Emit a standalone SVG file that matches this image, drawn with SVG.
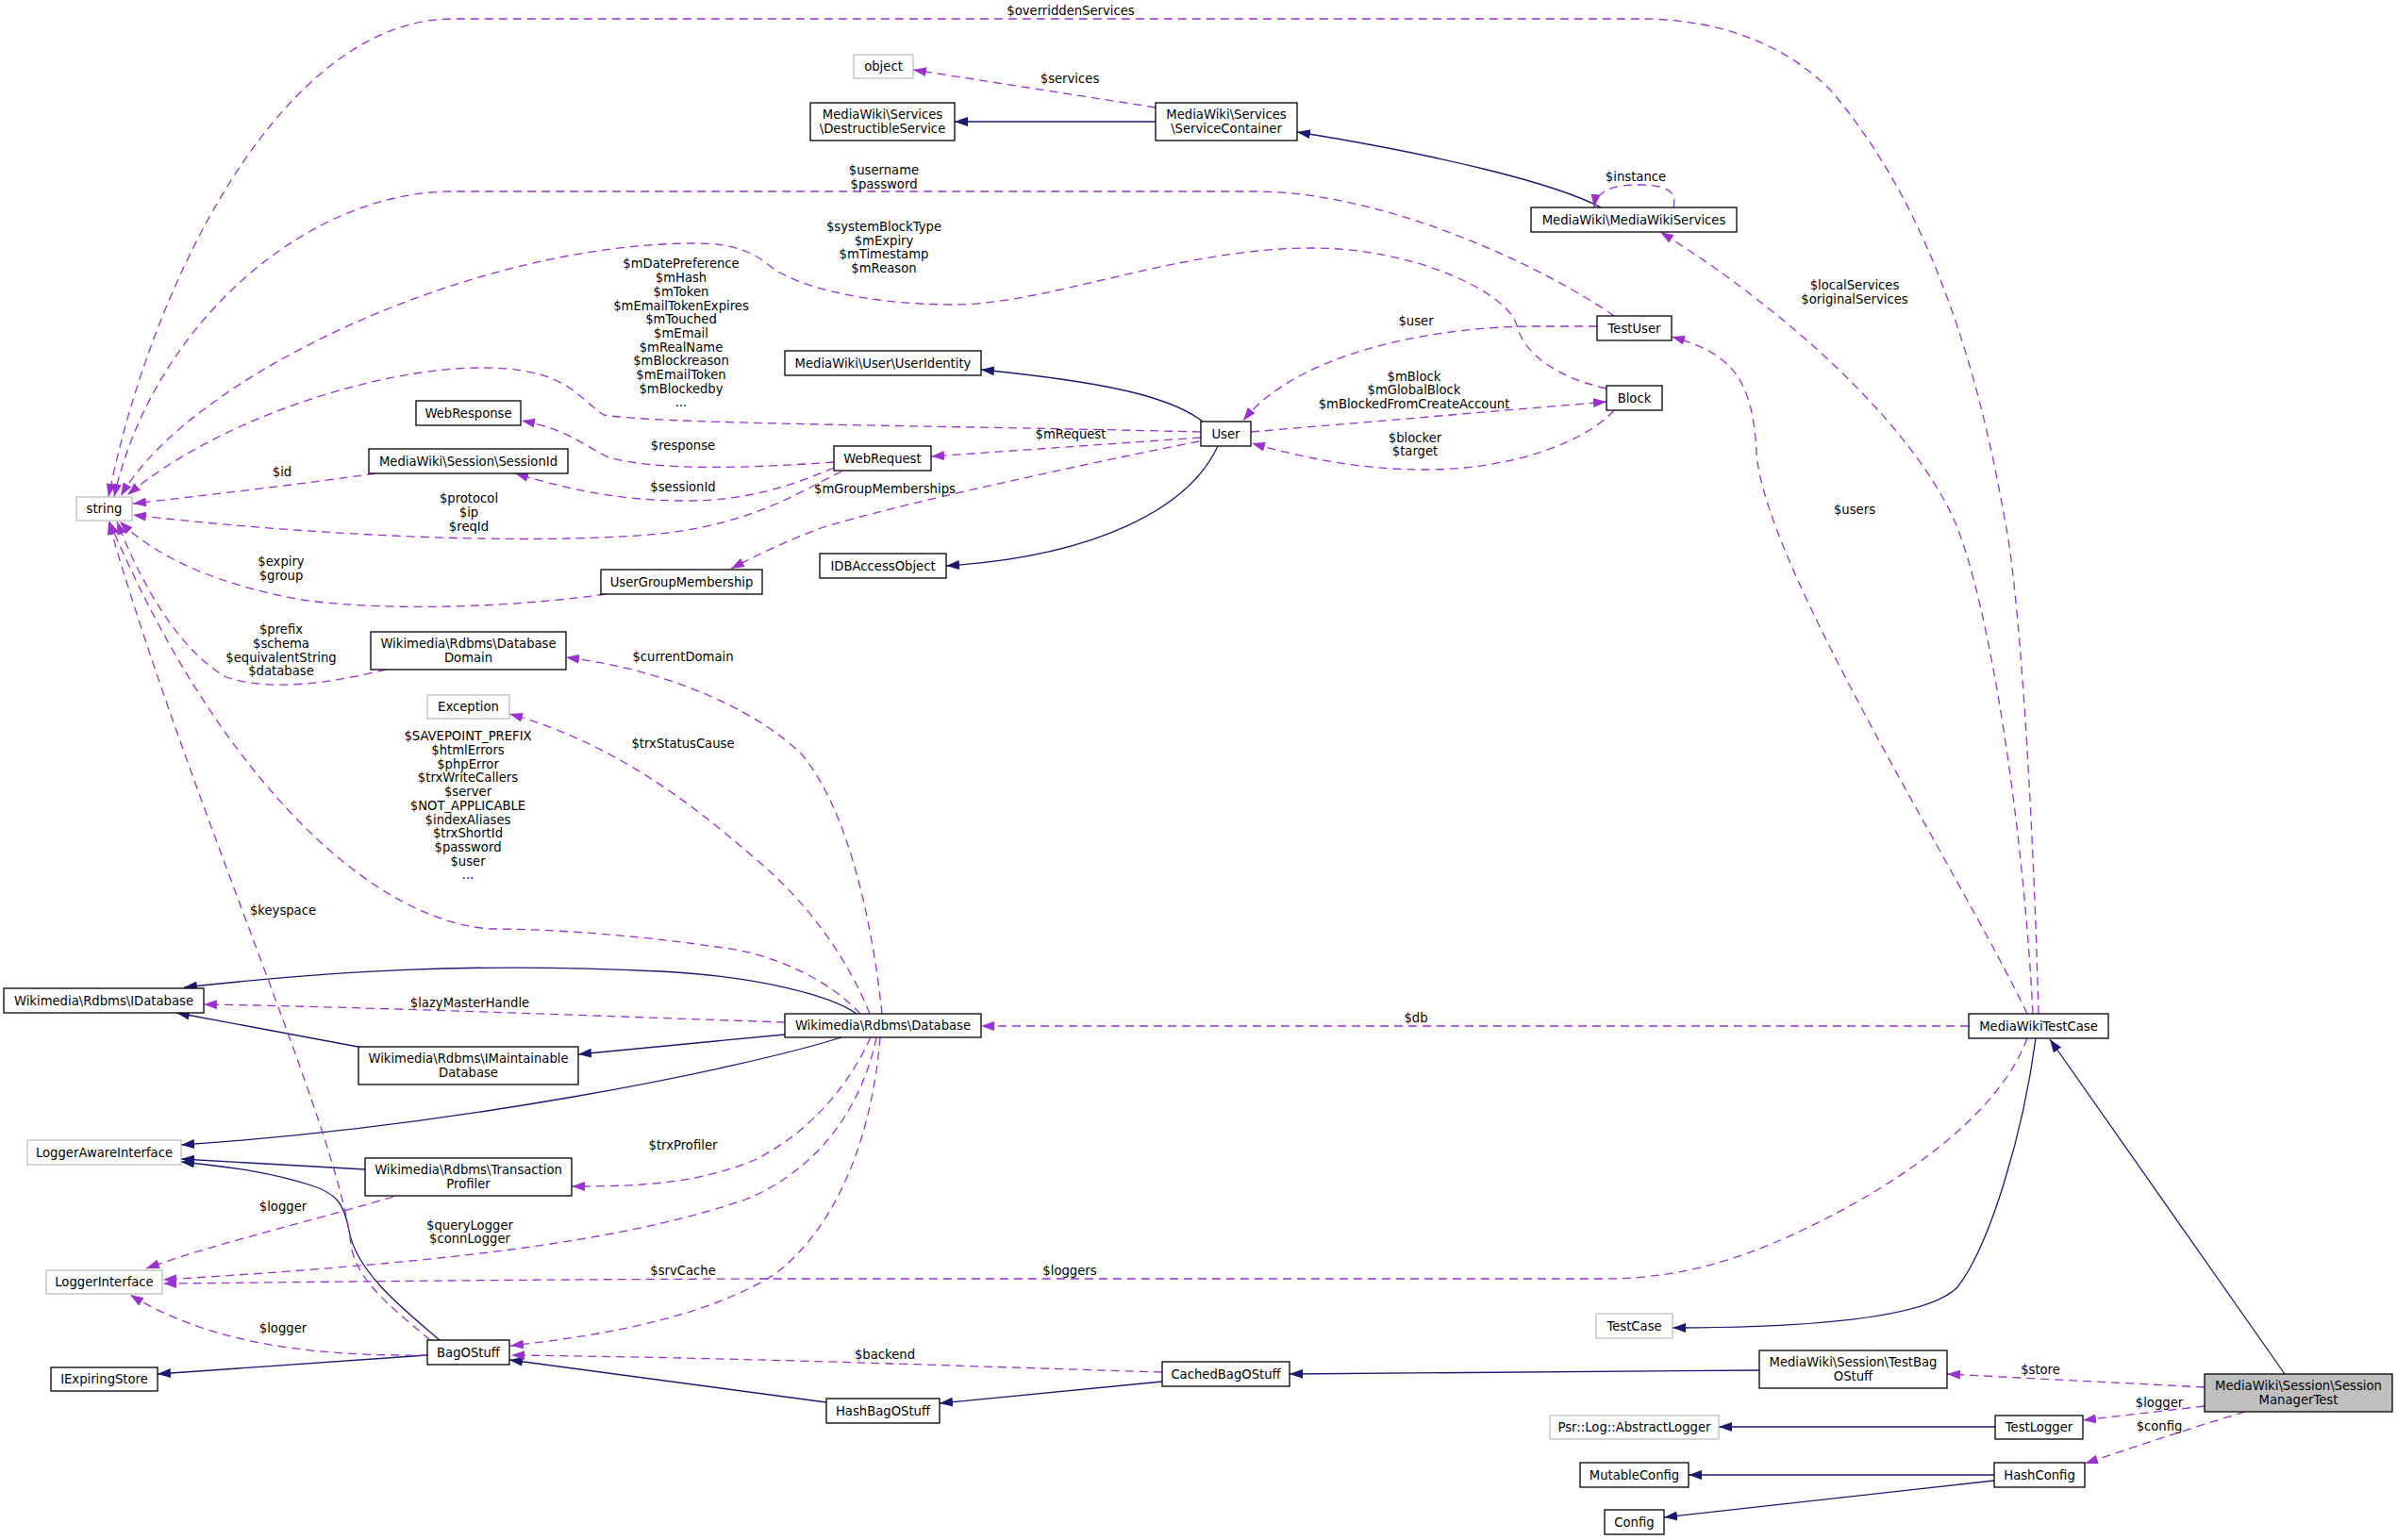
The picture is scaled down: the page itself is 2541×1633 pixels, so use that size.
<svg xmlns="http://www.w3.org/2000/svg" width="2541" height="1633" viewBox="0 0 2541 1633">
<style>
text{font-family:"DejaVu Sans","Liberation Sans",sans-serif;font-size:13.2px;fill:#000}
.node text,.lbl{text-anchor:middle}
.node rect{fill:#fff;stroke:#000;stroke-width:1.3}
.node.ext rect{stroke:#bfbfbf}
.node.focus rect{fill:#bfbfbf;stroke:#000}
.inh{fill:none;stroke:#191970;stroke-width:1.3;marker-end:url(#ab)}
.use{fill:none;stroke:#9a32cd;stroke-width:1.3;stroke-dasharray:9,6;marker-end:url(#ap)}
</style>
<defs>
<marker id="ab" markerUnits="userSpaceOnUse" markerWidth="14" markerHeight="10" refX="14" refY="5" orient="auto"><path d="M0,0 L14,5 L0,10 z" fill="#191970"/></marker>
<marker id="ap" markerUnits="userSpaceOnUse" markerWidth="14" markerHeight="10" refX="14" refY="5" orient="auto"><path d="M0,0 L14,5 L0,10 z" fill="#9a32cd"/></marker>
</defs>
<rect width="2541" height="1633" fill="#fff"/>
<g id="connectors">
<path class="inh" d="M1225,129 L1012,129"/>
<path class="inh" d="M1697,220 C1650,195 1530,165 1375,140"/>
<path class="inh" d="M1275,447 C1240,420 1170,405 1040,392"/>
<path class="inh" d="M1291,473 C1260,540 1160,590 1003,600"/>
<path class="inh" d="M908,1075 C880,1055 800,1035 700,1030 C500,1020 350,1030 195,1047"/>
<path class="inh" d="M832,1097 L613,1118"/>
<path class="inh" d="M385,1111 L187,1074"/>
<path class="inh" d="M892,1100 C780,1135 480,1195 192,1214"/>
<path class="inh" d="M387,1240 L192,1229"/>
<path class="inh" d="M466,1421 C430,1390 378,1350 370,1305 C365,1275 355,1265 330,1257 C290,1244 250,1238 192,1232"/>
<path class="inh" d="M453,1437 L167,1457"/>
<path class="inh" d="M876,1487 L540,1442"/>
<path class="inh" d="M1232,1465 L996,1488"/>
<path class="inh" d="M1865,1453 L1367,1457"/>
<path class="inh" d="M2158,1101 C2145,1200 2110,1320 2075,1365 C2040,1400 1900,1408 1773,1408"/>
<path class="inh" d="M2422,1457 L2173,1102"/>
<path class="inh" d="M2115,1513 L1822,1513"/>
<path class="inh" d="M2114,1564 L1790,1564"/>
<path class="inh" d="M2114,1570 L1764,1609"/>

<path class="use" d="M1225,114 L968,74"/>
<text class="lbl" x="1134" y="88">$services</text>
<path class="use" d="M1774,220 C1778,205 1770,196 1738,196 C1710,196 1692,202 1690,220"/>
<text class="lbl" x="1734" y="192">$instance</text>
<path class="use" d="M2161,1075 C2155,850 2140,620 2125,550 C2090,350 2030,200 1940,95 C1880,35 1800,20 1740,20 L480,20 C300,20 160,300 115,527"/>
<text class="lbl" x="1135" y="16">$overriddenServices</text>
<path class="use" d="M1711,335 C1640,285 1470,203 1330,203 L480,203 C320,203 160,350 121,527"/>
<text class="lbl" x="937" y="185">$username</text>
<text class="lbl" x="937" y="200">$password</text>
<path class="use" d="M1703,412 C1650,400 1615,375 1608,345 C1598,310 1500,263 1391,263 C1250,263 1110,323 1012,323 C920,323 850,305 820,285 C800,268 780,258 737,258 C500,258 200,400 128,526"/>
<text class="lbl" x="937" y="245">$systemBlockType</text>
<text class="lbl" x="937" y="259.7">$mExpiry</text>
<text class="lbl" x="937" y="274.4">$mTimestamp</text>
<text class="lbl" x="937" y="289.1">$mReason</text>
<path class="use" d="M1273,458 C1000,451 700,450 640,440 C610,420 600,390 510,390 C400,390 230,445 135,525"/>
<text class="lbl" x="722" y="284.4">$mDatePreference</text>
<text class="lbl" x="722" y="299.1">$mHash</text>
<text class="lbl" x="722" y="313.8">$mToken</text>
<text class="lbl" x="722" y="328.5">$mEmailTokenExpires</text>
<text class="lbl" x="722" y="343.2">$mTouched</text>
<text class="lbl" x="722" y="357.9">$mEmail</text>
<text class="lbl" x="722" y="372.6">$mRealName</text>
<text class="lbl" x="722" y="387.3">$mBlockreason</text>
<text class="lbl" x="722" y="402">$mEmailToken</text>
<text class="lbl" x="722" y="416.7">$mBlockedby</text>
<text class="lbl" x="722" y="431.4">...</text>
<path class="use" d="M892,500 C850,520 800,555 700,566 C550,580 300,565 141,546"/>
<text class="lbl" x="497" y="533.4">$protocol</text>
<text class="lbl" x="497" y="548.1">$ip</text>
<text class="lbl" x="497" y="562.8">$reqId</text>
<path class="use" d="M398,502 C330,512 220,525 141,534"/>
<text class="lbl" x="299" y="505">$id</text>
<path class="use" d="M642,630 C560,642 420,650 320,636 C240,622 170,595 127,553"/>
<text class="lbl" x="298" y="600.4">$expiry</text>
<text class="lbl" x="298" y="615.1">$group</text>
<path class="use" d="M409,710 C360,722 290,735 240,718 C190,690 150,620 124,553"/>
<text class="lbl" x="298" y="672.3">$prefix</text>
<text class="lbl" x="298" y="687">$schema</text>
<text class="lbl" x="298" y="701.7">$equivalentString</text>
<text class="lbl" x="298" y="716.4">$database</text>
<path class="use" d="M912,1075 C880,1040 820,1010 759,1004 C700,995 600,985 520,985 C380,975 220,800 116,553"/>
<text class="lbl" x="496" y="785.3">$SAVEPOINT_PREFIX</text>
<text class="lbl" x="496" y="800">$htmlErrors</text>
<text class="lbl" x="496" y="814.7">$phpError</text>
<text class="lbl" x="496" y="829.4">$trxWriteCallers</text>
<text class="lbl" x="496" y="844.1">$server</text>
<text class="lbl" x="496" y="858.8">$NOT_APPLICABLE</text>
<text class="lbl" x="496" y="873.5">$indexAliases</text>
<text class="lbl" x="496" y="888.2">$trxShortId</text>
<text class="lbl" x="496" y="902.9">$password</text>
<text class="lbl" x="496" y="917.6">$user</text>
<text class="lbl" x="496" y="932.3">...</text>
<path class="use" d="M456,1421 C420,1390 378,1360 372,1320 C360,1200 200,850 115,553"/>
<text class="lbl" x="300" y="970">$keyspace</text>
<path class="use" d="M1273,464 L987,484"/>
<text class="lbl" x="1135" y="465.4">$mRequest</text>
<path class="use" d="M884,490 C800,496 700,500 645,485 C615,470 600,455 553,446"/>
<text class="lbl" x="724" y="476.6">$response</text>
<path class="use" d="M884,496 C850,510 800,532 721,531 C650,530 600,518 546,502"/>
<text class="lbl" x="724" y="521.1">$sessionId</text>
<path class="use" d="M1271,468 C1150,492 950,535 870,560 C830,575 800,590 775,603"/>
<text class="lbl" x="938" y="523.2">$mGroupMemberships</text>
<path class="use" d="M1326,458 L1703,426"/>
<text class="lbl" x="1499" y="403.6">$mBlock</text>
<text class="lbl" x="1499" y="418.3">$mGlobalBlock</text>
<text class="lbl" x="1499" y="433">$mBlockedFromCreateAccount</text>
<path class="use" d="M1711,435 C1680,470 1600,498 1510,498 C1440,498 1380,485 1327,470"/>
<text class="lbl" x="1500" y="468.5">$blocker</text>
<text class="lbl" x="1500" y="483.2">$target</text>
<path class="use" d="M1693,346 L1620,346 C1500,348 1370,380 1318,446"/>
<text class="lbl" x="1501" y="345">$user</text>
<path class="use" d="M2149,1075 C2080,930 1870,600 1862,480 C1858,400 1835,375 1772,357"/>
<text class="lbl" x="1966" y="544.8">$users</text>
<path class="use" d="M2155,1075 C2145,880 2110,640 2071,550 C2020,440 1880,320 1760,246"/>
<text class="lbl" x="1966" y="307.2">$localServices</text>
<text class="lbl" x="1966" y="321.9">$originalServices</text>
<path class="use" d="M2087,1088 L1040,1088"/>
<text class="lbl" x="1501" y="1083.8">$db</text>
<path class="use" d="M832,1084 C650,1078 400,1068 216,1065"/>
<text class="lbl" x="498" y="1067.6">$lazyMasterHandle</text>
<path class="use" d="M935,1075 C925,980 900,860 850,800 C810,760 720,712 600,697"/>
<text class="lbl" x="724" y="700.7">$currentDomain</text>
<path class="use" d="M922,1075 C900,1020 860,960 800,910 C720,840 640,785 540,757"/>
<text class="lbl" x="724" y="792.6">$trxStatusCause</text>
<path class="use" d="M923,1100 C900,1150 860,1200 800,1230 C740,1255 680,1258 606,1258"/>
<text class="lbl" x="724" y="1219.4">$trxProfiler</text>
<path class="use" d="M929,1100 C915,1170 870,1240 790,1272 C650,1320 450,1340 173,1357"/>
<text class="lbl" x="498" y="1303.7">$queryLogger</text>
<text class="lbl" x="498" y="1318.4">$connLogger</text>
<path class="use" d="M933,1100 C925,1200 890,1300 820,1352 C750,1395 650,1415 541,1427"/>
<text class="lbl" x="724" y="1352.3">$srvCache</text>
<path class="use" d="M417,1269 C330,1295 230,1318 155,1345"/>
<text class="lbl" x="300" y="1284.3">$logger</text>
<path class="use" d="M453,1437 C350,1438 230,1430 138,1373"/>
<text class="lbl" x="300" y="1413.4">$logger</text>
<path class="use" d="M2149,1101 C2120,1180 2020,1250 1930,1295 C1860,1330 1790,1356 1700,1356 L800,1356 C500,1357 300,1360 173,1361"/>
<text class="lbl" x="1134" y="1352.3">$loggers</text>
<path class="use" d="M1232,1455 C1000,1448 800,1440 542,1437"/>
<text class="lbl" x="938" y="1441.3">$backend</text>
<path class="use" d="M2337,1471 L2064,1457"/>
<text class="lbl" x="2163" y="1456.6">$store</text>
<path class="use" d="M2337,1491 L2208,1506"/>
<text class="lbl" x="2289" y="1491.6">$logger</text>
<path class="use" d="M2380,1497 C2320,1515 2260,1535 2210,1552"/>
<text class="lbl" x="2289" y="1516.8">$config</text>
</g>

<g id="object" class="node ext"><rect x="905" y="58" width="63" height="25"/><text x="936.5" y="75">object</text></g>
<g id="DestructibleService" class="node"><rect x="859" y="109" width="153" height="40"/><text x="935.5" y="125.5">MediaWiki\Services</text><text x="935.5" y="140.5">\DestructibleService</text></g>
<g id="ServiceContainer" class="node"><rect x="1225" y="109" width="150" height="40"/><text x="1300" y="125.5">MediaWiki\Services</text><text x="1300" y="140.5">\ServiceContainer</text></g>
<g id="MediaWikiServices" class="node"><rect x="1623" y="220" width="218" height="26"/><text x="1732" y="237.5">MediaWiki\MediaWikiServices</text></g>
<g id="TestUser" class="node"><rect x="1693" y="335" width="79" height="26"/><text x="1732.5" y="352.5">TestUser</text></g>
<g id="UserIdentity" class="node"><rect x="832" y="372" width="208" height="26"/><text x="936" y="389.5">MediaWiki\User\UserIdentity</text></g>
<g id="Block" class="node"><rect x="1703" y="409" width="59" height="26"/><text x="1732.5" y="426.5">Block</text></g>
<g id="WebResponse" class="node"><rect x="441" y="425" width="111" height="26"/><text x="496.5" y="442.5">WebResponse</text></g>
<g id="User" class="node"><rect x="1273" y="447" width="53" height="26"/><text x="1299.5" y="464.5">User</text></g>
<g id="WebRequest" class="node"><rect x="884" y="473" width="103" height="26"/><text x="935.5" y="490.5">WebRequest</text></g>
<g id="SessionId" class="node"><rect x="391" y="476" width="211" height="26"/><text x="496.5" y="493.5">MediaWiki\Session\SessionId</text></g>
<g id="string" class="node ext"><rect x="81" y="527" width="59" height="25"/><text x="110.5" y="544">string</text></g>
<g id="IDBAccessObject" class="node"><rect x="869" y="587" width="134" height="26"/><text x="936" y="604.5">IDBAccessObject</text></g>
<g id="UserGroupMembership" class="node"><rect x="637" y="604" width="171" height="26"/><text x="722.5" y="621.5">UserGroupMembership</text></g>
<g id="DatabaseDomain" class="node"><rect x="393" y="670" width="207" height="40"/><text x="496.5" y="686.5">Wikimedia\Rdbms\Database</text><text x="496.5" y="701.5">Domain</text></g>
<g id="Exception" class="node ext"><rect x="453" y="737" width="87" height="25"/><text x="496.5" y="754">Exception</text></g>
<g id="IDatabase" class="node"><rect x="4" y="1048" width="212" height="26"/><text x="110" y="1065.5">Wikimedia\Rdbms\IDatabase</text></g>
<g id="Database" class="node"><rect x="832" y="1075" width="208" height="25"/><text x="936" y="1092">Wikimedia\Rdbms\Database</text></g>
<g id="MediaWikiTestCase" class="node"><rect x="2087" y="1075" width="148" height="26"/><text x="2161" y="1092.5">MediaWikiTestCase</text></g>
<g id="IMaintainableDatabase" class="node"><rect x="380" y="1110" width="233" height="40"/><text x="496.5" y="1126.5">Wikimedia\Rdbms\IMaintainable</text><text x="496.5" y="1141.5">Database</text></g>
<g id="LoggerAwareInterface" class="node ext"><rect x="29" y="1209" width="163" height="26"/><text x="110.5" y="1226.5">LoggerAwareInterface</text></g>
<g id="TransactionProfiler" class="node"><rect x="387" y="1228" width="219" height="40"/><text x="496.5" y="1244.5">Wikimedia\Rdbms\Transaction</text><text x="496.5" y="1259.5">Profiler</text></g>
<g id="LoggerInterface" class="node ext"><rect x="49" y="1347" width="123" height="25"/><text x="110.5" y="1364">LoggerInterface</text></g>
<g id="TestCase" class="node ext"><rect x="1692" y="1393" width="81" height="26"/><text x="1732.5" y="1410.5">TestCase</text></g>
<g id="BagOStuff" class="node"><rect x="453" y="1421" width="87" height="26"/><text x="496.5" y="1438.5">BagOStuff</text></g>
<g id="TestBagOStuff" class="node"><rect x="1865" y="1432" width="199" height="40"/><text x="1964.5" y="1448.5">MediaWiki\Session\TestBag</text><text x="1964.5" y="1463.5">OStuff</text></g>
<g id="CachedBagOStuff" class="node"><rect x="1232" y="1444" width="135" height="26"/><text x="1299.5" y="1461.5">CachedBagOStuff</text></g>
<g id="IExpiringStore" class="node"><rect x="54" y="1450" width="113" height="25"/><text x="110.5" y="1467">IExpiringStore</text></g>
<g id="SessionManagerTest" class="node focus"><rect x="2337" y="1457" width="199" height="40"/><text x="2436.5" y="1473.5">MediaWiki\Session\Session</text><text x="2436.5" y="1488.5">ManagerTest</text></g>
<g id="HashBagOStuff" class="node"><rect x="876" y="1483" width="120" height="26"/><text x="936" y="1500.5">HashBagOStuff</text></g>
<g id="AbstractLogger" class="node ext"><rect x="1643" y="1501" width="179" height="25"/><text x="1732.5" y="1518">Psr::Log::AbstractLogger</text></g>
<g id="TestLogger" class="node"><rect x="2115" y="1501" width="93" height="25"/><text x="2161.5" y="1518">TestLogger</text></g>
<g id="MutableConfig" class="node"><rect x="1675" y="1551" width="115" height="26"/><text x="1732.5" y="1568.5">MutableConfig</text></g>
<g id="HashConfig" class="node"><rect x="2114" y="1551" width="96" height="26"/><text x="2162" y="1568.5">HashConfig</text></g>
<g id="Config" class="node"><rect x="1701" y="1601" width="63" height="26"/><text x="1732.5" y="1618.5">Config</text></g>
</svg>
